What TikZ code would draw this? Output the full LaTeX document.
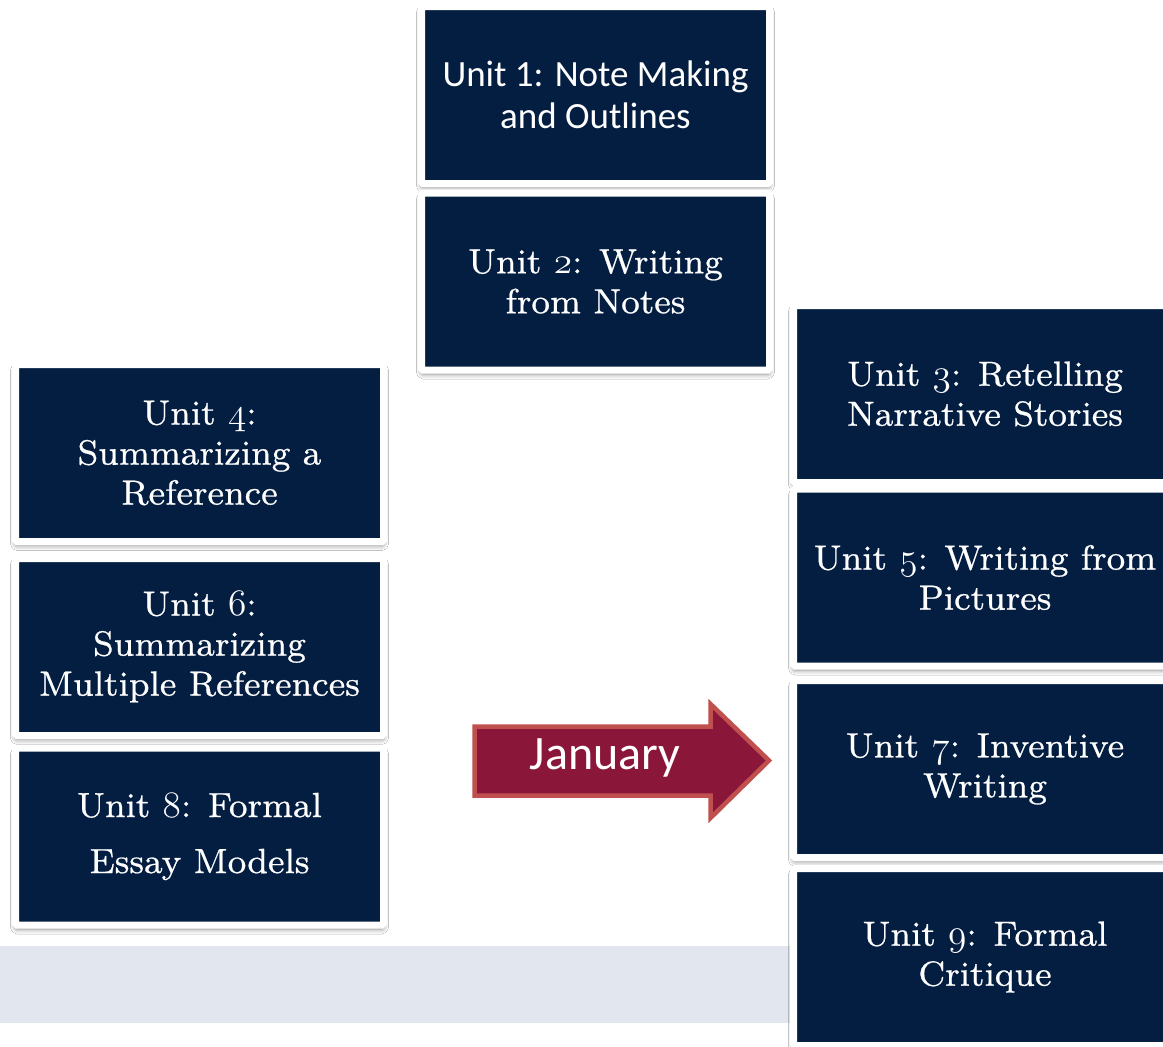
\documentclass[tikz,border=0pt]{standalone}
\usepackage{graphicx}
\usepackage{fontspec}
\setmainfont{lmroman8-regular.otf}[FakeBold=0.6]
\newfontfamily\calibri{Carlito}
\usetikzlibrary{shadows.blur}
\definecolor{navy}{RGB}{4,30,66}
\definecolor{wine}{RGB}{138,23,58}
\definecolor{wineedge}{RGB}{192,80,77}
\definecolor{band}{RGB}{226,230,239}
\newcommand\osnum[1]{\scalebox{1.8}{\fontencoding{OML}\fontfamily{cmm}\fontseries{m}\fontshape{it}\fontsize{20.74}{20}\selectfont #1}}
\newcommand\serifbig{\fontsize{35}{40}\selectfont}
\newcommand\sansbig{\calibri\fontsize{37}{42}\selectfont}
\begin{document}
\begin{tikzpicture}[x=1pt,y=-1pt,
  unitbox/.style={rectangle, fill=navy, draw=white, line width=7pt,
    rounded corners=1.5pt, text=white, align=center, inner sep=0pt,
    minimum height=177pt, font=\serifbig,
    blur shadow={shadow xshift=0pt, shadow yshift=-4pt, shadow blur radius=5pt, shadow opacity=50}},
  topbox/.style={unitbox, minimum width=348pt},
  leftbox/.style={unitbox, minimum width=368pt},
  rightbox/.style={unitbox, minimum width=383pt}]
\useasboundingbox (0,0) rectangle (1163,1047);
\clip (0,0) rectangle (1163,1047);
\fill[white] (0,0) rectangle (1163,1047);
% band
\fill[band] (0,946) rectangle (792,1023);
% top column
\node[topbox, font=\sansbig] (u1) at (595.5,95) {Unit 1: Note Making\\and Outlines};
\node[topbox] (u2) at (595.5,281.5) {Unit \osnum{2}: Writing\\from Notes};
% left column
\node[leftbox] (u4) at (199.5,453) {Unit \osnum{4}:\\Summarizing a\\Reference};
\node[leftbox] (u6) at (199.5,647) {Unit \osnum{6}:\\Summarizing\\Multiple References};
\node[leftbox] (u8) at (199.5,836.5) {Unit \osnum{8}: Formal\\[16pt]Essay Models};
% right column
\node[rightbox] (u3) at (985,394) {Unit \osnum{3}: Retelling\\Narrative Stories};
\node[rightbox] (u5) at (985,577.5) {Unit \osnum{5}: Writing from\\Pictures};
\node[rightbox] (u7) at (985,769) {Unit \osnum{7}: Inventive\\Writing};
\node[rightbox] (u9) at (985,957) {Unit \osnum{9}: Formal\\Critique};
% arrow
\draw[fill=wine, draw=wineedge, line width=4.5pt, line join=miter]
  (474.5,726.5) -- (710.5,726.5) -- (710.5,704) -- (769,760.5)
  -- (710.5,818) -- (710.5,795.5) -- (474.5,795.5) -- cycle;
\node[text=white, font=\calibri\fontsize{48}{50}\selectfont, inner sep=0pt] (jan) at (605,758) {January};
\end{tikzpicture}
\end{document}
